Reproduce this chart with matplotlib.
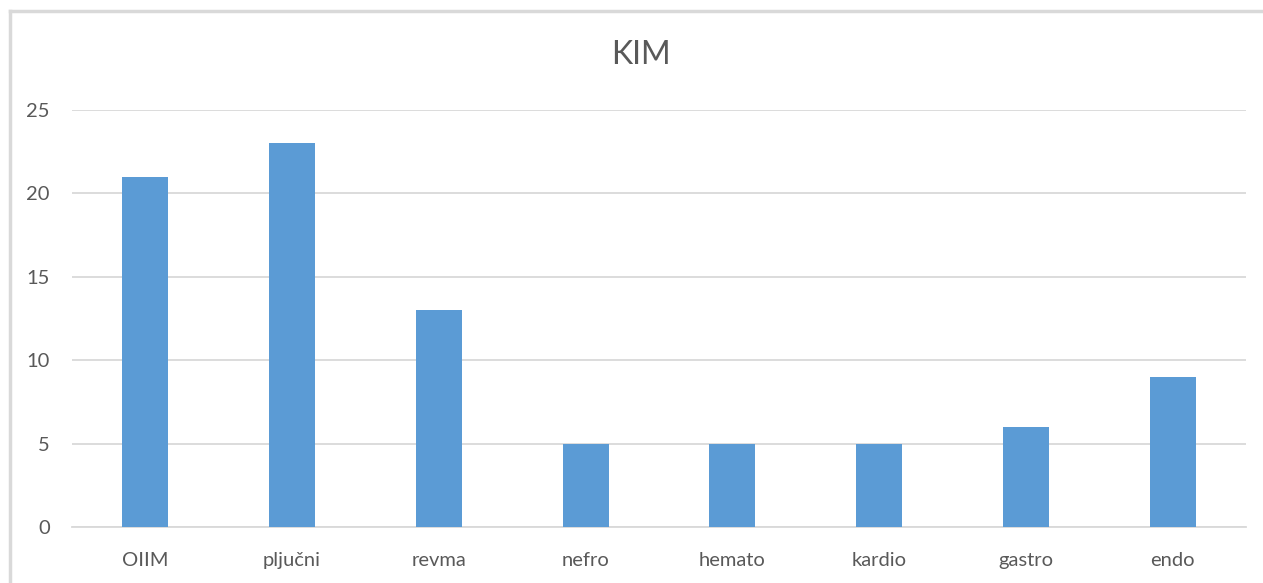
import matplotlib
matplotlib.use("Agg")
import matplotlib.pyplot as plt
from matplotlib.lines import Line2D

# Данные графика
categories = ["OIIM", "plju\u010dni", "revma", "nefro", "hemato", "kardio", "gastro", "endo"]
values = [21, 23, 13, 5, 5, 5, 6, 9]
y_ticks = [0, 5, 10, 15, 20, 25]

W, H = 1263, 583
text_color = "#595959"
bar_color = "#5B9BD5"
grid_color = "#D9D9D9"

plt.rcParams['font.family'] = ['Lato', 'DejaVu Sans']

fig = plt.figure(figsize=(W / 100, H / 100), dpi=100)
fig.patch.set_facecolor("white")

# Рамка области диаграммы (видна только слева и сверху)
fx, fy = 10 / W, 1 - 11 / H
fig.lines.append(Line2D([fx, fx], [0, fy], transform=fig.transFigure,
                        color=grid_color, linewidth=2.5))
fig.lines.append(Line2D([fx, 1], [fy, fy], transform=fig.transFigure,
                        color=grid_color, linewidth=2.5))

left, right = 72 / W, 1246 / W
bottom, top = 1 - 527 / H, 1 - 110 / H
ax = fig.add_axes([left, bottom, right - left, top - bottom])

x = list(range(len(categories)))
ax.bar(x, values, width=0.313, color=bar_color, zorder=3)

ax.set_xlim(-0.5, len(categories) - 0.5)
ax.set_ylim(0, 25)
ax.set_yticks(y_ticks)
ax.set_xticks(x)
ax.set_xticklabels(categories)

ax.yaxis.grid(True, color=grid_color, linewidth=1.3, zorder=0)
for side in ["top", "right", "left"]:
    ax.spines[side].set_visible(False)
ax.spines["bottom"].set_color(grid_color)
ax.spines["bottom"].set_linewidth(1.3)

ax.tick_params(axis="both", length=0, labelsize=14.5, labelcolor=text_color)
ax.tick_params(axis="y", pad=16)
ax.tick_params(axis="x", pad=18)

fig.text(641 / W, 1 - 55 / H, "KIM", ha="center", va="center",
         fontsize=23, color=text_color)

fig.savefig("out.png", dpi=100, facecolor="white")
